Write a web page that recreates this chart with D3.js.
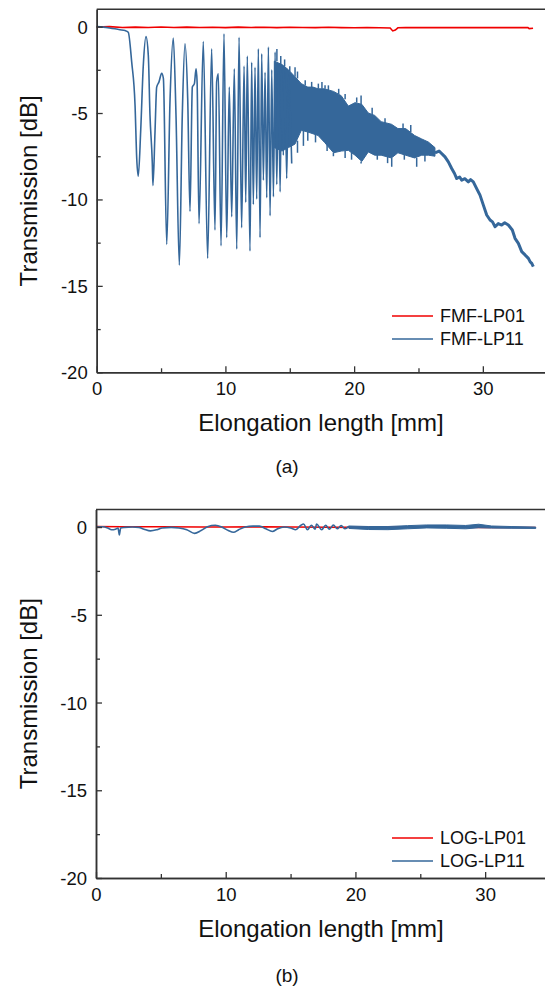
<!DOCTYPE html>
<html>
<head>
<meta charset="utf-8">
<script src="https://cdn.jsdelivr.net/npm/d3@7"></script>
<style>
  body { margin: 0; background: #fff; }
  text { font-family: "Liberation Sans", Arial, sans-serif; fill: #111; }
</style>
</head>
<body>
<script>
// ---- data (x in mm, y in dB) ----
var xMajor = [0, 10, 20, 30];
var xMinor = [5, 15, 25];
var yMajor = [0, -5, -10, -15, -20];
var yMinor = [-2.5, -7.5, -12.5, -17.5];

var fmfLP01 = [[0,-0.02],[1,0.0],[2,-0.05],[3,-0.03],[4,-0.05],[5,-0.02],[6,-0.05],[7,-0.03],[8,-0.05],[9,-0.04],
  [10,-0.06],[11,-0.03],[12,-0.05],[13,-0.04],[14,-0.06],[15,-0.04],[16,-0.05],[17,-0.06],[18,-0.04],[19,-0.06],
  [20,-0.07],[21,-0.05],[22,-0.07],[22.8,-0.08],[23.0,-0.25],[23.2,-0.2],[23.4,-0.07],[24,-0.06],[25,-0.06],
  [26,-0.05],[27,-0.06],[28,-0.06],[29,-0.05],[30,-0.06],[31,-0.06],[32,-0.06],[33,-0.06],[33.5,-0.06],[33.6,-0.12],[33.9,-0.1]];

// oscillating part of FMF-LP11 (peaks and troughs)
var fmfLP11 = [[0,0],[0.5,-0.03],[1.0,-0.08],[1.42,-0.13],[1.8,-0.18],[2.2,-0.23],[2.45,-0.33],[2.72,-2.06],[2.98,-4.56],
  [3.11,-7.63],[3.23,-8.66],[3.42,-6.0],[3.62,-2.25],[3.83,-0.58],[4.01,-1.67],[4.14,-5.13],[4.32,-7.9],[4.37,-9.2],
  [4.53,-6.1],[4.66,-3.5],[4.84,-3.2],[5.05,-2.7],[5.18,-3.0],[5.44,-12.6],[5.70,-4.17],[5.95,-0.67],[6.16,-5.1],
  [6.42,-13.8],[6.65,-5.1],[6.86,-1.0],[7.07,-4.17],[7.25,-10.7],[7.43,-3.5],[7.59,-3.3],[7.72,-2.44],[7.8,-3.2],
  [7.95,-11.4],[8.28,-0.87],[8.62,-13.4],[8.93,-1.29],[9.19,-11.77],[9.32,-3.2],[9.45,-2.73],[9.66,-12.68],[9.89,-0.42],
  [10.10,-12.21],[10.3,-3.5],[10.49,-11.0],[10.69,-2.44],[10.88,-12.87],[11.06,-0.62],[11.26,-11.64],[11.45,-2.29],
  [11.58,-10.17],[11.70,-1.71],[11.91,-12.98],[12.04,-2.06],[12.17,-10.29],[12.3,-2.35],[12.43,-9.98],[12.56,-1.29],
  [12.69,-12.21],[12.82,-1.58],[12.95,-8.89],[13.08,-2.64],[13.21,-9.9],[13.34,-1.19],[13.47,-10.94],[13.6,-2.5],
  [13.73,-9.85],[13.86,-1.48],[13.99,-9.14],[14.12,-2.54],[14.25,-9.56],[14.37,-2.35],[14.5,-7.44],[14.62,-2.6],
  [14.76,-8.79],[14.9,-2.8],[15.15,-7.92]];

// dense noisy part of FMF-LP11: [x, upper, lower]
var fmfLP11Band = [[13.8,-2.0,-7.0],[14.4,-2.2,-7.2],[14.9,-2.5,-7.0],[15.4,-2.9,-6.8],[15.9,-3.3,-6.0],[16.4,-3.5,-6.1],
  [16.8,-3.5,-6.2],[17.2,-3.6,-6.3],[17.7,-3.6,-6.7],[18.4,-3.75,-7.3],[19.0,-4.0,-7.2],[19.55,-4.6,-7.16],
  [20.07,-4.4,-7.44],[20.6,-4.5,-7.8],[21.1,-5.0,-7.25],[21.6,-5.14,-7.44],[22.1,-5.5,-7.44],[22.9,-5.65,-7.6],
  [23.4,-5.9,-7.3],[24.0,-5.9,-7.44],[24.7,-6.3,-7.6],[25.25,-6.5,-7.44],[25.77,-6.68,-7.44],[26.28,-7.0,-7.5]];

// isolated spikes sticking out of the band: [x, from, to]
var fmfLP11Spikes = [[14.0,-2.0,-1.3],[14.3,-2.2,-1.7],[14.6,-2.3,-1.9],[15.0,-2.6,-2.3],[15.41,-2.9,-2.35],
  [15.6,-3.0,-2.6],[16.2,-3.4,-3.1],[16.7,-3.5,-3.2],[17.22,-3.6,-3.3],[17.5,-3.6,-3.2],[17.74,-3.6,-3.4],
  [18.0,-3.7,-3.4],[18.8,-3.9,-3.6],[19.3,-4.2,-3.9],[20.2,-4.4,-4.1],[20.54,-4.5,-3.98],[21.4,-5.1,-4.7],
  [22.4,-5.6,-5.3],[23.8,-5.9,-5.6],[24.4,-6.1,-5.7],
  [15.6,-6.6,-7.3],[16.06,-6.0,-6.9],[16.4,-6.1,-6.6],[17.0,-6.2,-6.7],[17.9,-6.8,-7.2],[18.39,-7.3,-7.5],
  [19.3,-7.2,-7.6],[19.8,-7.2,-7.7],[20.54,-7.8,-7.92],[21.8,-7.4,-7.7],[22.6,-7.5,-7.9],[22.92,-7.6,-8.11],
  [23.9,-7.4,-7.7],[24.86,-7.6,-8.11],[25.5,-7.4,-7.8]];

var fmfLP11Tail = [[26.28,-7.3],[26.6,-7.2],[27.06,-7.54],[27.32,-7.83],[27.58,-8.21],[27.8,-8.5],[27.97,-8.79],
  [28.2,-8.7],[28.36,-8.89],[28.6,-8.8],[28.87,-8.98],[29.05,-8.85],[29.26,-8.98],[29.52,-9.37],[29.78,-9.75],
  [30.04,-10.33],[30.3,-10.9],[30.56,-11.19],[30.75,-11.3],[30.95,-11.58],[31.2,-11.4],[31.46,-11.48],[31.7,-11.35],
  [31.98,-11.48],[32.29,-11.77],[32.5,-12.25],[32.76,-12.54],[33.02,-13.02],[33.28,-13.21],[33.54,-13.41],
  [33.67,-13.6],[33.8,-13.7],[33.92,-13.89]];

var logLP01 = [[0,0.03],[2,0.02],[5,0.02],[8,0.0],[10,0.0],[13,0.01],[15,0.0],[18,-0.01],[20,-0.02],[23,0.0],
  [25,0.0],[28,-0.01],[30,-0.02],[33.9,-0.03]];

var logLP11 = [[0,0.0],[0.5,0.02],[0.9,-0.05],[1.2,-0.15],[1.5,-0.12],[1.7,-0.05],[1.8,-0.45],[1.9,-0.05],[2.2,-0.02],
  [2.8,0.0],[3.3,-0.02],[3.7,-0.12],[4.2,-0.22],[4.7,-0.15],[5.1,-0.05],[5.8,-0.02],[6.4,-0.05],[7.0,-0.15],[7.6,-0.36],
  [8.1,-0.2],[8.6,0.02],[9.2,0.1],[9.7,0.0],[10.2,-0.2],[10.6,-0.3],[11.0,-0.15],[11.5,0.0],[12.1,0.05],[12.6,0.05],
  [13.1,-0.1],[13.6,-0.25],[14.0,-0.1],[14.5,0.0],[15.0,-0.05],[15.4,-0.15],[15.8,0.1],[16.0,0.17],[16.3,-0.15],
  [16.6,0.1],[16.9,-0.12],[17.0,0.17],[17.4,-0.15],[17.7,0.1],[18.0,-0.12],[18.3,0.12],[18.6,-0.1],[18.9,0.08],
  [19.2,-0.1],[19.5,0.05]];

var logLP11Band = [[19.5,0.06,-0.08],[21,0.03,-0.14],[22.5,0.03,-0.15],[24,0.08,-0.1],[25.5,0.12,-0.05],[27,0.12,-0.07],
  [28.5,0.09,-0.1],[29.5,0.16,-0.04],[30.5,0.06,-0.06],[32,0.03,-0.07],[33.9,0.0,-0.08]];

var red = "#f00000", blue = "#35679a", axisColor = "#333";

var svg = d3.select("body").append("svg")
  .attr("width", 545).attr("height", 989);

function drawPanel(p) {
  var x = d3.scaleLinear().domain([0, 35]).range([p.left, p.right]);
  var y = d3.scaleLinear().domain([-20, 1]).range([p.bottom, p.top]);
  var g = svg.append("g");

  var line = d3.line().x(function(d) { return x(d[0]); }).y(function(d) { return y(d[1]); });
  var smooth = d3.line().curve(d3.curveMonotoneX)
    .x(function(d) { return x(d[0]); }).y(function(d) { return y(d[1]); });
  var area = d3.area().x(function(d) { return x(d[0]); })
    .y0(function(d) { return y(d[2]); }).y1(function(d) { return y(d[1]); });

  // series
  g.append("path").datum(p.redLine).attr("d", line)
    .attr("fill", "none").attr("stroke", red).attr("stroke-width", 1.6);
  if (p.band) {
    g.append("path").datum(p.band).attr("d", area)
      .attr("fill", blue).attr("stroke", blue).attr("stroke-width", 1);
  }
  if (p.spikes) {
    g.selectAll(null).data(p.spikes).enter().append("line")
      .attr("x1", function(d) { return x(d[0]); }).attr("x2", function(d) { return x(d[0]); })
      .attr("y1", function(d) { return y(d[1]); }).attr("y2", function(d) { return y(d[2]); })
      .attr("stroke", blue).attr("stroke-width", 1.5);
  }
  g.append("path").datum(p.blueLine).attr("d", smooth)
    .attr("fill", "none").attr("stroke", blue).attr("stroke-width", 1.6)
    .attr("stroke-linejoin", "round");
  if (p.tail) {
    g.append("path").datum(p.tail).attr("d", line)
      .attr("fill", "none").attr("stroke", blue).attr("stroke-width", 3)
      .attr("stroke-linejoin", "round");
  }

  // frame: top line
  g.append("line").attr("x1", p.left).attr("x2", p.right)
    .attr("y1", p.top).attr("y2", p.top)
    .attr("stroke", axisColor).attr("stroke-width", 1.5);

  var fmt = function(d) { return String(d); };

  // axes
  g.append("g").attr("transform", "translate(0," + p.bottom + ")")
    .call(d3.axisBottom(x).tickValues(xMajor).tickSize(-6).tickSizeOuter(0).tickPadding(10).tickFormat(fmt));
  g.append("g").attr("transform", "translate(0," + p.bottom + ")")
    .call(d3.axisBottom(x).tickValues(xMinor).tickSize(-4).tickSizeOuter(0).tickFormat(""));
  var ay = g.append("g").attr("transform", "translate(" + p.left + ",0)")
    .call(d3.axisLeft(y).tickValues(yMajor).tickSize(-6).tickSizeOuter(0).tickPadding(9).tickFormat(fmt));
  g.append("g").attr("transform", "translate(" + p.left + ",0)")
    .call(d3.axisLeft(y).tickValues(yMinor).tickSize(-4).tickSizeOuter(0).tickFormat(""));

  g.selectAll(".domain").attr("stroke", axisColor).attr("stroke-width", 1.5);
  g.selectAll(".tick line").attr("stroke", axisColor).attr("stroke-width", 1.3);
  g.selectAll(".tick text").attr("font-size", 18.5).attr("fill", "#111")
    .attr("font-family", "Liberation Sans, Arial, sans-serif");
  ay.selectAll(".tick text").attr("dy", "0.35em");

  // axis titles
  g.append("text").attr("x", 321).attr("y", p.bottom + 59)
    .attr("text-anchor", "middle").attr("font-size", 24).text("Elongation length [mm]");
  g.append("text")
    .attr("transform", "translate(37," + (p.top + p.bottom) / 2 + ") rotate(-90)")
    .attr("text-anchor", "middle").attr("font-size", 24).text("Transmission [dB]");
  g.append("text").attr("x", 287).attr("y", p.bottom + p.capGap)
    .attr("text-anchor", "middle").attr("font-size", 19).text(p.caption);

  // legend
  var leg = g.append("g");
  p.legend.forEach(function(d, i) {
    var ly = p.legendY + i * 23;
    leg.append("line").attr("x1", 392).attr("x2", 433).attr("y1", ly).attr("y2", ly)
      .attr("stroke", d.color).attr("stroke-width", 1.5);
    leg.append("text").attr("x", 440).attr("y", ly).attr("dy", "0.35em")
      .attr("font-size", 18).text(d.name);
  });
}

drawPanel({
  left: 96.7, right: 547.2, top: 9.3, bottom: 372.3,
  redLine: fmfLP01, blueLine: fmfLP11, band: fmfLP11Band, spikes: fmfLP11Spikes, tail: fmfLP11Tail,
  caption: "(a)", capGap: 101, legendY: 316,
  legend: [{name: "FMF-LP01", color: red}, {name: "FMF-LP11", color: blue}]
});

drawPanel({
  left: 96, right: 550, top: 509.5, bottom: 878,
  redLine: logLP01, blueLine: logLP11, band: logLP11Band,
  caption: "(b)", capGap: 104, legendY: 838,
  legend: [{name: "LOG-LP01", color: red}, {name: "LOG-LP11", color: blue}]
});
</script>
</body>
</html>
